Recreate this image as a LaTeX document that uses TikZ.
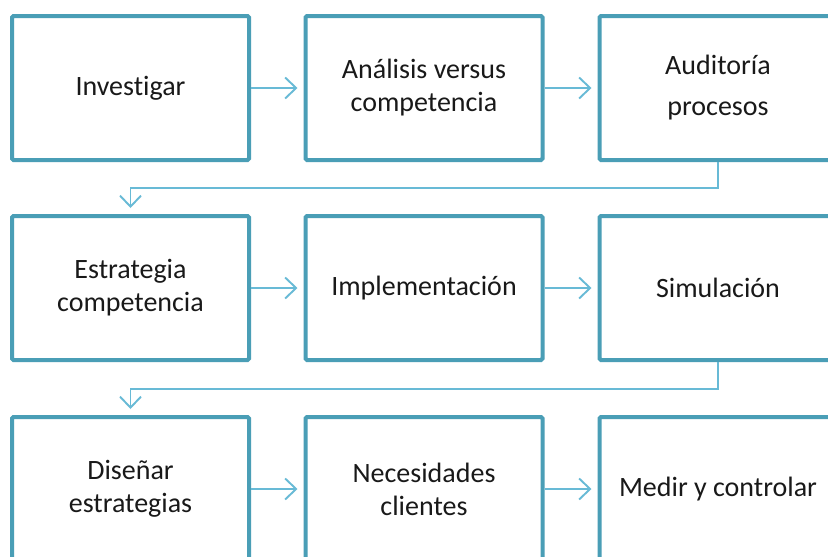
\documentclass[tikz,border=0pt]{standalone}
\usepackage{fontspec}
\setmainfont{Carlito}[Ligatures=NoCommon]
\usetikzlibrary{arrows.meta}
\definecolor{boxc}{HTML}{4A9EB6}
\definecolor{connc}{HTML}{68BAD6}
\tikzset{
  box/.style={draw=boxc, line width=4pt, rounded corners=1.5pt, minimum width=237pt, minimum height=144pt, inner sep=0pt, align=center, font=\fontsize{28}{33}\selectfont, text=black!90},
  conn/.style={draw=connc, line width=1.9pt, -{Straight Barb[length=11pt,width=21pt,line width=1.9pt]}, shorten >=6pt}
}
\begin{document}
\begin{tikzpicture}[x=1pt,y=-1pt]
\useasboundingbox (0,0) rectangle (828,557);
\fill[white] (0,0) rectangle (828,557);
\node[box] (b1) at (130.5,88) {Investigar};
\node[box] (b2) at (424,88) {Análisis versus\\competencia};
\node[box] (b3) at (718,88) {Auditoría\\[8pt]procesos};
\node[box] (b4) at (130.5,288) {Estrategia\\competencia};
\node[box] (b5) at (424,288) {Implementación};
\node[box] (b6) at (718,288) {Simulación};
\node[box] (b7) at (130.5,489) {Diseñar\\estrategias};
\node[box] (b8) at (424,489) {Necesidades\\clientes};
\node[box] (b9) at (718,489) {Medir y controlar};
\draw[conn] (b1.east) -- (b2.west);
\draw[conn] (b2.east) -- (b3.west);
\draw[conn] (b4.east) -- (b5.west);
\draw[conn] (b5.east) -- (b6.west);
\draw[conn] (b7.east) -- (b8.west);
\draw[conn] (b8.east) -- (b9.west);
\draw[conn] (b3.south) -- ++(0,26) -| (b4.north);
\draw[conn] (b6.south) -- ++(0,27) -| (b7.north);
\end{tikzpicture}
\end{document}
